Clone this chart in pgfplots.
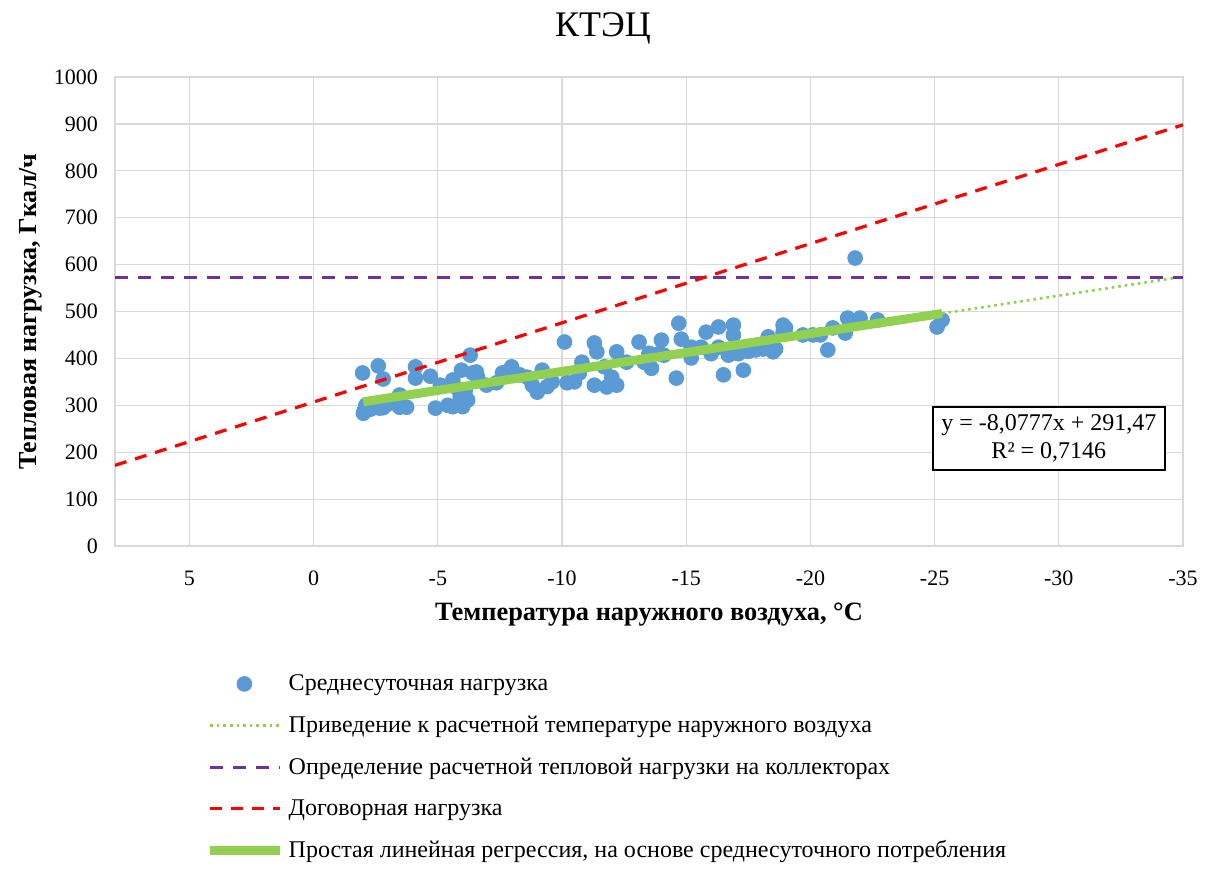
\documentclass[border=0pt]{standalone}
\usepackage{pgfplots}
\pgfplotsset{compat=1.18}
\usepackage{fontspec}
\setmainfont{Liberation Serif}

\definecolor{ptblue}{HTML}{5B9BD5}
\definecolor{lgreen}{HTML}{92D050}
\definecolor{lpurple}{HTML}{7030A0}
\definecolor{gridgray}{HTML}{D9D9D9}

\pgfplotsset{
  longline/.style={legend image code/.code={\draw[##1] (0cm,0cm) -- (1.23cm,0cm);}},
  midmark/.style={legend image code/.code={\draw[##1] plot coordinates {(0.6cm,0cm)};}},
}

\begin{document}
\begin{tikzpicture}
\useasboundingbox (-57.5pt,-161.5pt) rectangle (550.5pt,273pt);
\begin{axis}[
  at={(0,0)}, anchor=south west,
  scale only axis, width=534pt, height=234.5pt,
  x dir=reverse,
  xmin=-35, xmax=8, ymin=0, ymax=1000,
  xtick={-35,-30,...,5}, ytick={0,100,...,1000},
  grid=major, major grid style={gridgray, line width=0.6pt},
  axis line style={gridgray, line width=0.8pt},
  tick style={draw=none},
  clip marker paths=true,
  /pgf/number format/assume math mode=true,
  /pgf/number format/set thousands separator={},
  ticklabel style={font=\fontsize{11}{13}\selectfont},
  xticklabel style={yshift=-9pt},
  yticklabel style={xshift=-5pt},
  xlabel={Температура наружного воздуха, °C},
  ylabel={Тепловая нагрузка, Гкал/ч},
  xlabel style={font=\fontsize{13.2}{15}\selectfont\bfseries, at={(axis description cs:0.5,0)}, anchor=center, yshift=-34.5pt},
  ylabel style={font=\fontsize{13}{15}\selectfont\bfseries, at={(axis description cs:0,0.5)}, anchor=center, xshift=0pt, yshift=42pt},
  legend style={at={(rel axis cs:0.079,-0.256)}, anchor=north west, draw=none,
    font=\fontsize{12}{14}\selectfont, row sep=7.2pt, cells={anchor=west}},
  legend cell align=left,
]
\addplot[only marks, mark=*, mark size=3.7pt, color=ptblue, midmark]
coordinates {
(-1.97,369) (-2.6,384) (-2.8,356) (-2.0,283) (-2.05,290) (-2.1,300) (-2.3,292)
(-2.5,297) (-2.66,294) (-2.9,300) (-3.0,306) (-3.46,322) (-3.46,296) (-3.74,296)
(-3.3,310) (-4.1,382) (-4.1,358) (-4.7,362) (-4.9,294) (-5.1,343) (-5.6,354)
(-5.6,297) (-5.9,318) (-5.95,375) (-6.0,297) (-6.3,407) (-6.2,311) (-6.4,369)
(-5.8,335) (-6.1,330) (-6.55,371) (-6.96,343) (-7.36,348) (-7.6,369) (-7.97,382)
(-7.8,372) (-8.6,360) (-8.8,343) (-9.0,328) (-9.2,375) (-9.6,350) (-10.1,435)
(-10.2,348) (-10.8,392) (-10.7,369) (-11.3,433) (-11.4,414) (-11.3,343) (-11.7,382)
(-11.8,339) (-12.2,414) (-12.2,343) (-12.6,392) (-13.1,435) (-13.3,392) (-13.5,411)
(-13.6,379) (-14.0,439) (-14.1,407) (-14.6,358) (-14.7,475) (-14.8,441) (-15.2,424)
(-15.2,401) (-15.6,424) (-15.8,456) (-16.3,467) (-16.3,424) (-16.5,365) (-16.7,407)
(-16.9,471) (-16.9,450) (-17.3,422) (-17.3,375) (-17.8,418) (-18.3,446) (-18.5,414)
(-18.9,471) (-18.9,456) (-19.7,450) (-20.1,450) (-21.8,614) (-20.4,450) (-20.7,418)
(-20.9,465) (-21.4,454) (-21.5,486) (-22.0,486) (-22.7,482) (-25.1,467) (-25.3,482)
(-3.2,305) (-2.8,295) (-5.4,300) (-6.6,360) (-8.3,365) (-9.4,340) (-10.5,350)
(-12.0,360) (-13.9,410) (-16.0,410) (-17.1,410) (-17.5,415) (-18.1,420) (-18.6,420)
(-19.0,465)
};
\addlegendentry{Среднесуточная нагрузка}

\addplot[lgreen, line width=1.3pt, dash pattern=on 1.3pt off 2pt, longline]
coordinates {(-25.3,495.8) (-35,574.2)};
\addlegendentry{Приведение к расчетной температуре наружного воздуха}

\addplot[lpurple, line width=1.6pt, dash pattern=on 6.5pt off 5pt, longline]
coordinates {(8,573) (-35,573)};
\addlegendentry{Определение расчетной тепловой нагрузки на коллекторах}

\addplot[red, line width=1.6pt, dash pattern=on 6pt off 4.5pt, longline]
coordinates {(8,172) (-35,898)};
\addlegendentry{Договорная нагрузка}

\addplot[lgreen, line width=4.5pt, longline]
coordinates {(-2.0,307.6) (-25.3,495.8)};
\addlegendentry{Простая линейная регрессия, на основе среднесуточного потребления}

\node[draw=black, line width=1pt, fill=white, align=center, inner sep=2pt,
  minimum width=116pt, minimum height=31.5pt, font=\fontsize{12}{14}\selectfont]
  at (axis cs:-29.6,230) {y = -8,0777x + 291,47\\R² = 0,7146};
\end{axis}
\node[font=\fontsize{18}{20}\selectfont] at (244pt,259pt) {КТЭЦ};
\end{tikzpicture}
\end{document}
